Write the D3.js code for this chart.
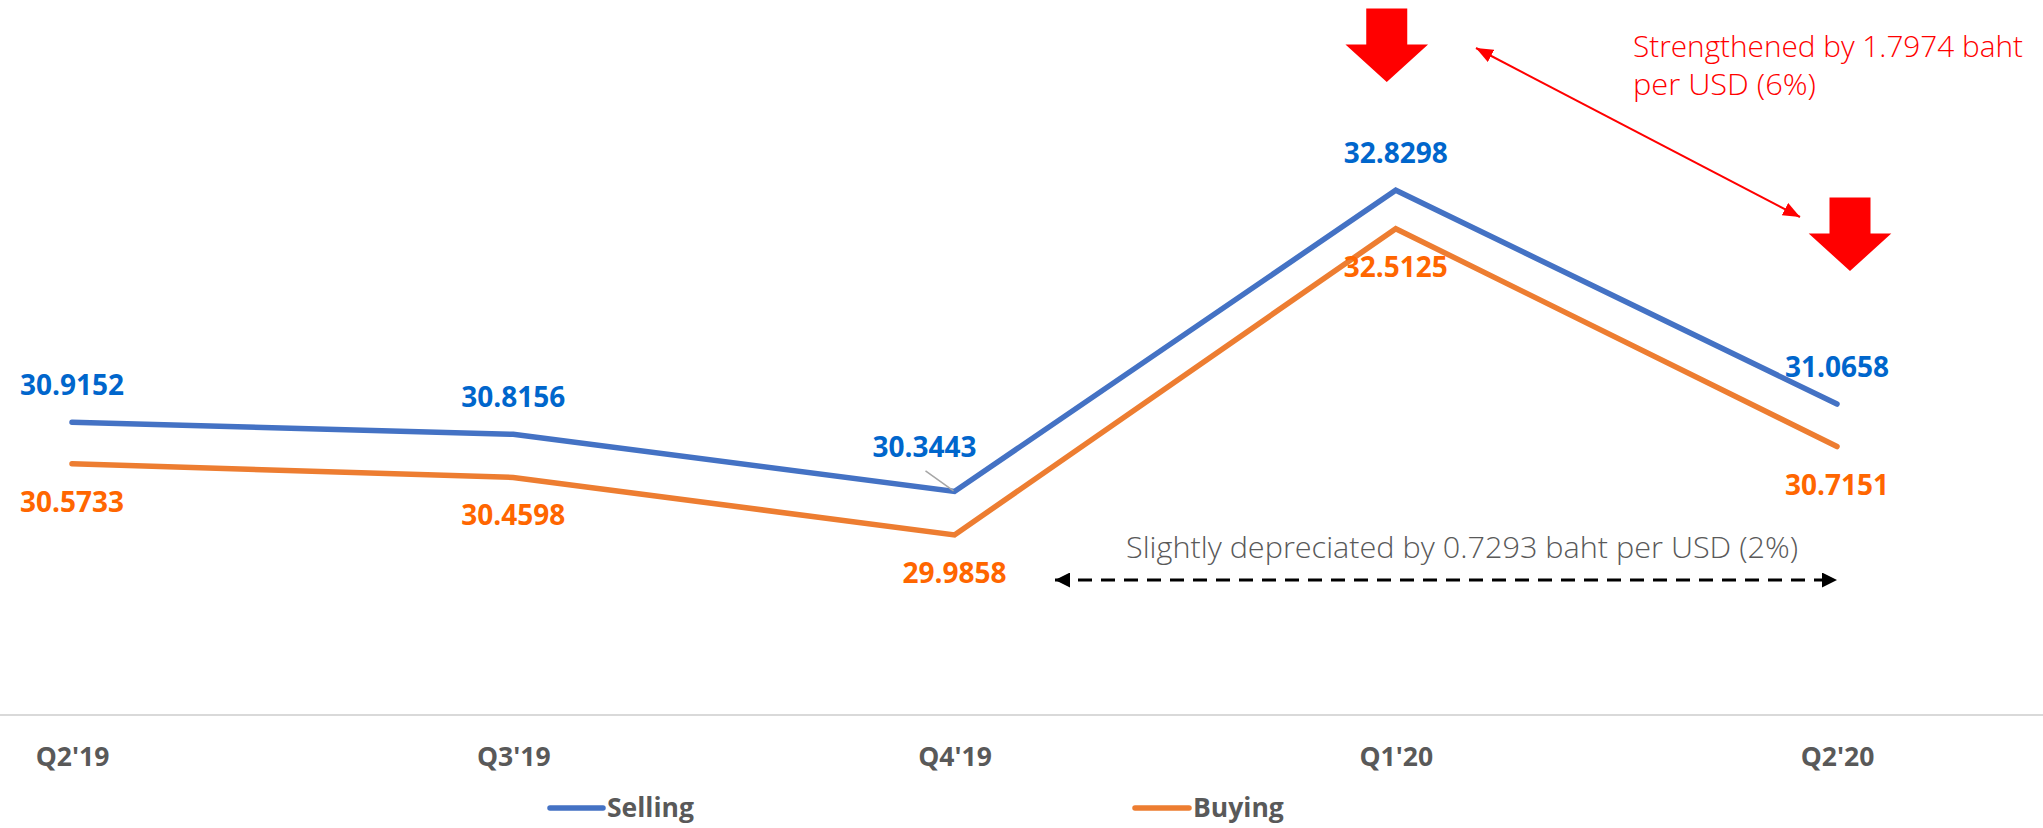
<!DOCTYPE html>
<html>
<head>
<meta charset="utf-8">
<script src="https://cdn.jsdelivr.net/npm/d3@7"></script>
<style>
  html, body { margin: 0; padding: 0; background: #ffffff; }
  svg { display: block; }
</style>
</head>
<body>
<script>
// ---- data ----
const categories = ["Q2'19", "Q3'19", "Q4'19", "Q1'20", "Q2'20"];
const selling = [30.9152, 30.8156, 30.3443, 32.8298, 31.0658];
const buying  = [30.5733, 30.4598, 29.9858, 32.5125, 30.7151];
const seriesNames = ["Selling", "Buying"];
const noteDepreciated = "Slightly depreciated by 0.7293 baht per USD (2%)";
const noteStrengthened = ["Strengthened by 1.7974 baht", "per USD (6%)"];

// ---- setup ----
const W = 2043, H = 828;
const svg = d3.select("body").append("svg").attr("width", W).attr("height", H);
svg.append("rect").attr("width", W).attr("height", H).attr("fill", "#ffffff");

const x = d3.scalePoint().domain(categories).range([72, 1837]);
const y = d3.scaleLinear().domain([28.5, 33.5]).range([715, 109]);

const lineColors = { Selling: "#4472C4", Buying: "#ED7D31" };
const labelColors = { Selling: "#0066CC", Buying: "#FF6600" };
const fmt = d3.format(".4f");

// defs: arrow markers
const defs = svg.append("defs");
function marker(id, color, len, wid) {
  defs.append("marker")
    .attr("id", id)
    .attr("viewBox", `0 0 ${len} ${wid}`)
    .attr("refX", len).attr("refY", wid / 2)
    .attr("markerUnits", "userSpaceOnUse")
    .attr("markerWidth", len).attr("markerHeight", wid)
    .attr("orient", "auto-start-reverse")
    .append("path")
    .attr("d", `M0,0 L${len},${wid / 2} L0,${wid} Z`)
    .attr("fill", color);
}
marker("arrRed", "#FF0000", 17, 14);
marker("arrBlack", "#000000", 15, 15);

// ---- axis ----
const axisY = y(28.5);
svg.append("line")
  .attr("x1", 0).attr("x2", W).attr("y1", axisY).attr("y2", axisY)
  .attr("stroke", "#d9d9d9").attr("stroke-width", 2);

const axisG = svg.append("g").attr("transform", `translate(0,${axisY})`)
  .call(d3.axisBottom(x).tickSize(0));
axisG.select(".domain").remove();
axisG.selectAll("text")
  .attr("y", 51).attr("dy", 0)
  .attr("fill", "#595959")
  .style("font-family", "'Open Sans', sans-serif")
  .style("font-weight", 700)
  .style("font-size", "26.5px");

// ---- lines ----
const seriesData = [
  { name: "Selling", values: selling },
  { name: "Buying", values: buying }
];
const line = d3.line()
  .x((d, i) => x(categories[i]))
  .y(d => y(d));

svg.selectAll("path.series").data(seriesData).join("path")
  .attr("class", "series")
  .attr("d", d => line(d.values))
  .attr("fill", "none")
  .attr("stroke", d => lineColors[d.name])
  .attr("stroke-width", 5.5)
  .attr("stroke-linecap", "round")
  .attr("stroke-linejoin", "miter");

// ---- data labels ----
const labelFont = "'Open Sans', sans-serif";
seriesData.forEach(s => {
  s.values.forEach((v, i) => {
    let lx = x(categories[i]);
    let ly = s.name === "Selling" ? y(v) - 27 : y(v) + 48;
    if (s.name === "Selling" && i === 2) {
      lx = x(categories[i]) - 30;
      ly = y(v) - 34;
      svg.append("line")
        .attr("x1", x(categories[i]) - 29).attr("y1", y(v) - 20.5)
        .attr("x2", x(categories[i]) - 1).attr("y2", y(v) - 0.5)
        .attr("stroke", "#a6a6a6").attr("stroke-width", 1.5);
    }
    svg.append("text")
      .attr("x", lx).attr("y", ly)
      .attr("text-anchor", "middle")
      .attr("fill", labelColors[s.name])
      .style("font-family", labelFont)
      .style("font-weight", 700)
      .style("font-size", "28px")
      .text(fmt(v));
  });
});

// ---- legend ----
const legendItems = [
  { name: seriesNames[0], x0: 550, x1: 603, tx: 607 },
  { name: seriesNames[1], x0: 1135, x1: 1189, tx: 1193 }
];
legendItems.forEach(it => {
  svg.append("line")
    .attr("x1", it.x0).attr("x2", it.x1).attr("y1", 808).attr("y2", 808)
    .attr("stroke", lineColors[it.name]).attr("stroke-width", 5.5)
    .attr("stroke-linecap", "round");
  svg.append("text")
    .attr("x", it.tx).attr("y", 817)
    .attr("fill", "#595959")
    .style("font-family", labelFont)
    .style("font-weight", 700)
    .style("font-size", "26.5px")
    .text(it.name);
});

// ---- annotations ----
function blockArrow(cx, top, tip) {
  const sw = 20.5, hw = 41.3, hy = top + 36;
  return `M${cx - sw},${top} L${cx + sw},${top} L${cx + sw},${hy} L${cx + hw},${hy} ` +
         `L${cx},${tip} L${cx - hw},${hy} L${cx - sw},${hy} Z`;
}
svg.append("path").attr("d", blockArrow(x("Q1'20") - 9, 8.5, 82)).attr("fill", "#FF0000");
svg.append("path").attr("d", blockArrow(x("Q2'20") + 13, 197.5, 271)).attr("fill", "#FF0000");

// red double-headed arrow
svg.append("line")
  .attr("x1", 1476).attr("y1", 48).attr("x2", 1800).attr("y2", 217)
  .attr("stroke", "#FF0000").attr("stroke-width", 2)
  .attr("marker-start", "url(#arrRed)").attr("marker-end", "url(#arrRed)");

// red text
const noteFont = "'Open Sans', 'Noto Sans', sans-serif";
svg.append("text")
  .attr("x", 1633).attr("y", 57)
  .attr("fill", "#FF0000")
  .attr("textLength", 390).attr("lengthAdjust", "spacingAndGlyphs")
  .style("font-family", noteFont).style("font-weight", 300).style("font-size", "29px")
  .text(noteStrengthened[0]);
svg.append("text")
  .attr("x", 1633).attr("y", 95)
  .attr("fill", "#FF0000")
  .attr("textLength", 183).attr("lengthAdjust", "spacingAndGlyphs")
  .style("font-family", noteFont).style("font-weight", 300).style("font-size", "29px")
  .text(noteStrengthened[1]);

// dashed double-headed arrow
svg.append("line")
  .attr("x1", 1055).attr("y1", 580).attr("x2", x("Q2'20")).attr("y2", 580)
  .attr("stroke", "#000000").attr("stroke-width", 2.8)
  .attr("stroke-dasharray", "14 9")
  .attr("marker-start", "url(#arrBlack)").attr("marker-end", "url(#arrBlack)");

svg.append("text")
  .attr("x", 1126).attr("y", 558)
  .attr("fill", "#595959")
  .attr("textLength", 672).attr("lengthAdjust", "spacingAndGlyphs")
  .style("font-family", noteFont).style("font-weight", 300).style("font-size", "29px")
  .text(noteDepreciated);
</script>
</body>
</html>
